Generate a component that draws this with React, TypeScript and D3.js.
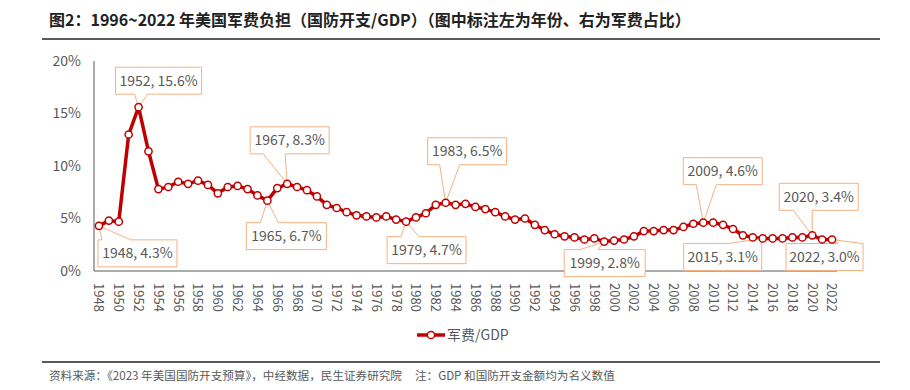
import React from "react";
import * as d3 from "d3";

const years: number[] = [
  1948, 1949, 1950, 1951, 1952, 1953, 1954, 1955, 1956, 1957, 1958, 1959,
  1960, 1961, 1962, 1963, 1964, 1965, 1966, 1967, 1968, 1969, 1970, 1971,
  1972, 1973, 1974, 1975, 1976, 1977, 1978, 1979, 1980, 1981, 1982, 1983,
  1984, 1985, 1986, 1987, 1988, 1989, 1990, 1991, 1992, 1993, 1994, 1995,
  1996, 1997, 1998, 1999, 2000, 2001, 2002, 2003, 2004, 2005, 2006, 2007,
  2008, 2009, 2010, 2011, 2012, 2013, 2014, 2015, 2016, 2017, 2018, 2019,
  2020, 2021, 2022,
];

// 军费/GDP (%)
const ratio: number[] = [
  4.3, 4.8, 4.7, 13.0, 15.6, 11.4, 7.8, 8.0, 8.5, 8.3, 8.6, 8.2,
  7.4, 8.0, 8.1, 7.8, 7.2, 6.7, 7.9, 8.3, 8.0, 7.7, 7.1, 6.3,
  6.0, 5.6, 5.3, 5.2, 5.1, 5.2, 4.9, 4.7, 5.1, 5.5, 6.3, 6.5,
  6.3, 6.4, 6.1, 5.9, 5.6, 5.2, 4.9, 5.0, 4.4, 3.9, 3.5, 3.3,
  3.2, 3.0, 3.1, 2.8, 2.9, 3.0, 3.3, 3.8, 3.8, 3.9, 3.9, 4.2,
  4.5, 4.6, 4.6, 4.4, 4.0, 3.4, 3.2, 3.1, 3.1, 3.1, 3.2, 3.2,
  3.4, 3.0, 3.0,
];

const yTicks: number[] = [0, 5, 10, 15, 20];
const labelYears: number[] = years.filter((y) => (y - 1948) % 2 === 0);
const calloutYears: number[] = [1948, 1952, 1965, 1967, 1979, 1983, 1999, 2009, 2015, 2020, 2022];

// callout box placement relative to the point: dx, dy, width, wedge side, wedge base (from box left)
const calloutLayout: Record<number, { dx: number; dy: number; w: number; side: "top" | "bottom"; b1: number; b2: number }> = {
  1948: { dx: -1, dy: 14, w: 79, side: "top", b1: 4, b2: 33 },
  1952: { dx: -23, dy: -40, w: 86, side: "bottom", b1: 19, b2: 32 },
  1965: { dx: -21, dy: 22, w: 80, side: "top", b1: 14, b2: 32 },
  1967: { dx: -37, dy: -57, w: 79, side: "bottom", b1: 13, b2: 35 },
  1979: { dx: -19, dy: 15, w: 79, side: "top", b1: 14, b2: 32 },
  1983: { dx: -18, dy: -65, w: 79, side: "bottom", b1: 12, b2: 32 },
  1999: { dx: -40, dy: 8, w: 81, side: "top", b1: 16, b2: 34 },
  2009: { dx: -20, dy: -65, w: 79, side: "bottom", b1: 13, b2: 33 },
  2015: { dx: -79, dy: 5, w: 78, side: "top", b1: 45, b2: 77 },
  2020: { dx: -33, dy: -52, w: 79, side: "bottom", b1: 14, b2: 33 },
  2022: { dx: -46, dy: 4, w: 77, side: "top", b1: 52, b2: 76 },
};

const RED = "#C00000";
const ORANGE = "#F4B183";
const GREY = "#595959";
const FONT = "'Noto Sans CJK SC', 'Noto Sans', sans-serif";

export default function App() {
  const W = 910;
  const H = 390;
  const x = d3.scaleBand<number>().domain(years).range([94, 837]);
  const y = d3.scaleLinear().domain([0, 20]).range([271, 61]);
  const cx = (yr: number) => (x(yr) as number) + x.bandwidth() / 2;

  const line = d3
    .line<number>()
    .x((_, i) => cx(years[i]))
    .y((d) => y(d));

  const boxH = 27;

  return (
    <svg width={W} height={H} style={{ position: "fixed", left: 0, top: 0, background: "#fff" }} fontFamily={FONT}>
      <text x={49} y={26} fontSize={16} fontWeight="bold" fill="#222">
        图2：1996~2022 年美国军费负担（国防开支/GDP）（图中标注左为年份、右为军费占比）
      </text>
      <line x1={42} x2={880} y1={39} y2={39} stroke={GREY} strokeWidth={2} />

      {/* axes */}
      <line x1={94} x2={94} y1={y(20)} y2={y(0)} stroke={GREY} strokeWidth={1} />
      <line x1={94} x2={837} y1={y(0)} y2={y(0)} stroke={GREY} strokeWidth={1} />
      {yTicks.map((t) => (
        <text key={t} x={81} y={y(t)} dy="0.35em" textAnchor="end" fontSize={14} fill={GREY}>
          {t}%
        </text>
      ))}
      {labelYears.map((yr) => (
        <text
          key={yr}
          transform={`translate(${cx(yr)},${y(0) + 12}) rotate(90)`}
          dy="0.35em"
          fontSize={13}
          fill={GREY}
        >
          {yr}
        </text>
      ))}

      {/* series */}
      <path d={line(ratio) ?? ""} fill="none" stroke={RED} strokeWidth={3.5} strokeLinejoin="round" />

      {/* callouts */}
      {calloutYears.map((yr) => {
        const L = calloutLayout[yr];
        const v = ratio[years.indexOf(yr)];
        const px = cx(yr);
        const py = y(v);
        const bx = px + L.dx;
        const by = py + L.dy;
        const bw = L.w;
        let d: string;
        if (L.side === "top") {
          d = `M${bx},${by}L${bx + L.b1},${by}L${px},${py}L${bx + L.b2},${by}L${bx + bw},${by}L${bx + bw},${by + boxH}L${bx},${by + boxH}Z`;
        } else {
          d = `M${bx},${by}L${bx + bw},${by}L${bx + bw},${by + boxH}L${bx + L.b2},${by + boxH}L${px},${py}L${bx + L.b1},${by + boxH}L${bx},${by + boxH}Z`;
        }
        return (
          <g key={yr}>
            <path d={d} fill="#fff" stroke={ORANGE} strokeWidth={1} />
            <text x={bx + bw / 2} y={by + boxH / 2} dy="0.36em" textAnchor="middle" fontSize={14} fill={GREY}>
              {yr}, {v.toFixed(1)}%
            </text>
          </g>
        );
      })}

      {ratio.map((v, i) => (
        <circle key={years[i]} cx={cx(years[i])} cy={y(v)} r={3.6} fill="#fff" stroke={RED} strokeWidth={1.5} />
      ))}

      {/* legend */}
      <line x1={417} x2={445} y1={335} y2={335} stroke={RED} strokeWidth={3.5} />
      <circle cx={431} cy={335} r={3.6} fill="#fff" stroke={RED} strokeWidth={1.5} />
      <text x={447} y={335} dy="0.35em" fontSize={14} fill={GREY}>
        军费/GDP
      </text>

      {/* footer */}
      <line x1={42} x2={880} y1={362} y2={362} stroke={GREY} strokeWidth={2} />
      <text x={49} y={380} fontSize={11.6} fill={GREY}>
        资料来源：《2023 年美国国防开支预算》，中经数据，民生证券研究院{"\u00a0\u00a0\u00a0\u00a0\u00a0"}注：GDP 和国防开支金额均为名义数值
      </text>
    </svg>
  );
}
